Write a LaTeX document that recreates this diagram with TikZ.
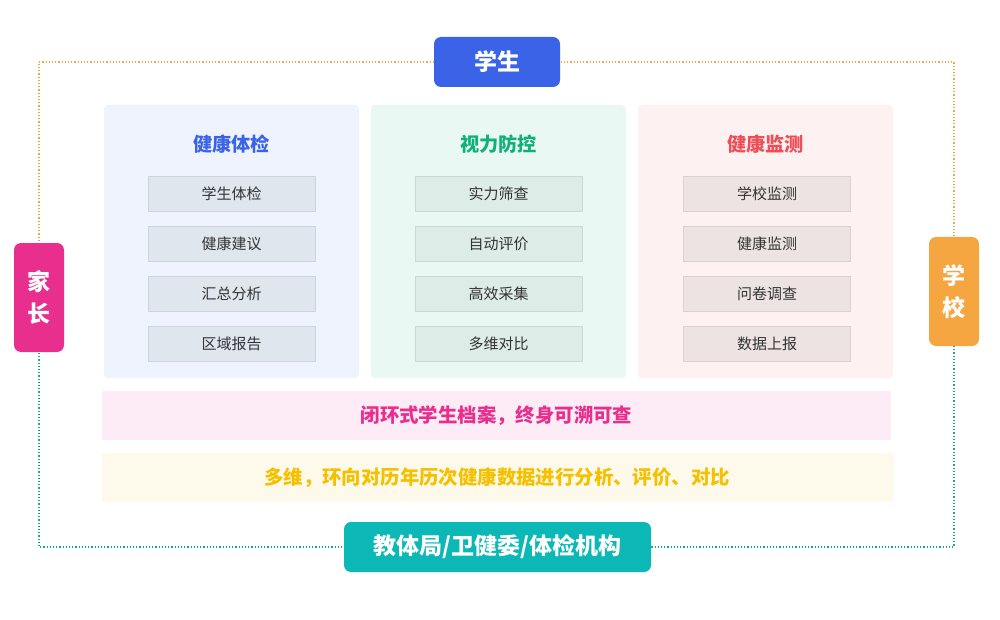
\documentclass[tikz,border=0pt]{standalone}
\usepackage{fontspec}
\setmainfont{Noto Sans CJK SC}
\begin{document}
\begin{tikzpicture}[x=1pt,y=-1pt,
  role/.style={rounded corners=7pt,text=white,font=\bfseries\fontsize{23}{26}\selectfont,inner sep=0},
  col/.style={rounded corners=4pt,inner sep=0},
  item/.style={draw=#1,line width=0.6pt,inner sep=0,minimum width=167pt,minimum height=35pt,font=\fontsize{15}{17}\selectfont,text=black!80},
  ttl/.style={font=\bfseries\fontsize{19.2}{22}\selectfont},
  band/.style={inner sep=0,font=\bfseries\fontsize{19.4}{22}\selectfont}]
\definecolor{cblue}{HTML}{3A63E8}\definecolor{cpink}{HTML}{E92F8E}
\definecolor{corange}{HTML}{F5A640}\definecolor{cteal}{HTML}{0BB8B5}
\definecolor{cgreen}{HTML}{10B07A}\definecolor{cred}{HTML}{EE4E55}
\definecolor{cyel}{HTML}{F5C000}
\useasboundingbox (0,0) rectangle (1000,620);
\fill[white] (0,0) rectangle (1000,620);
% dotted border
\draw[corange,dotted,line width=1.2pt] (39,305) -- (39,62) -- (954,62) -- (954,305);
\draw[cgreen,dotted,line width=1.2pt] (39,305) -- (39,547) -- (954,547) -- (954,305);
% columns
\fill[col,fill=cblue!8] (104,105) rectangle (359,378);
\fill[col,fill=cgreen!9] (371,105) rectangle (626,378);
\fill[col,fill=cred!8] (638,105) rectangle (893,378);
\node[ttl,text=cblue] (t1) at (231.5,144) {健康体检};
\node[ttl,text=cgreen] (t2) at (498.5,144) {视力防控};
\node[ttl,text=cred] (t3) at (765.5,144) {健康监测};
\definecolor{fcA}{HTML}{DFE6EE}\definecolor{fcB}{HTML}{DDECE6}\definecolor{fcC}{HTML}{EEE3E3}
\foreach \x/\c/\la/\lb/\lc/\ld in {231.5/A/学生体检/健康建议/汇总分析/区域报告,498.5/B/实力筛查/自动评价/高效采集/多维对比,767/C/学校监测/健康监测/问卷调查/数据上报}{
  \node[item=fc\c!92!black,fill=fc\c] (i\c1) at (\x,193.5) {\la};
  \node[item=fc\c!92!black,fill=fc\c] (i\c2) at (\x,243.5) {\lb};
  \node[item=fc\c!92!black,fill=fc\c] (i\c3) at (\x,293.5) {\lc};
  \node[item=fc\c!92!black,fill=fc\c] (i\c4) at (\x,343.5) {\ld};
}
% bands
\fill[cpink!9] (102,391) rectangle (891,440);
\node[band,text=cpink] (b1) at (496.5,415.5) {闭环式学生档案，终身可溯可查};
\fill[cyel!8] (102,453) rectangle (894,502);
\node[band,text=cyel] (b2) at (497,478) {多维，环向对历年历次健康数据进行分析、评价、对比};
% roles
\node[role,fill=cblue,minimum width=126pt,minimum height=50pt] (stu) at (497,62) {学生};
\node[role,fill=cpink,minimum width=50pt,minimum height=109pt,align=center] (par) at (39,297.5) {家\\[6pt]长};
\node[role,fill=corange,minimum width=50pt,minimum height=109pt,align=center] (sch) at (954,291.5) {学\\[6pt]校};
\node[role,fill=cteal,minimum width=307pt,minimum height=50pt] (gov) at (497.5,547) {教体局/卫健委/体检机构};
\end{tikzpicture}
\end{document}
